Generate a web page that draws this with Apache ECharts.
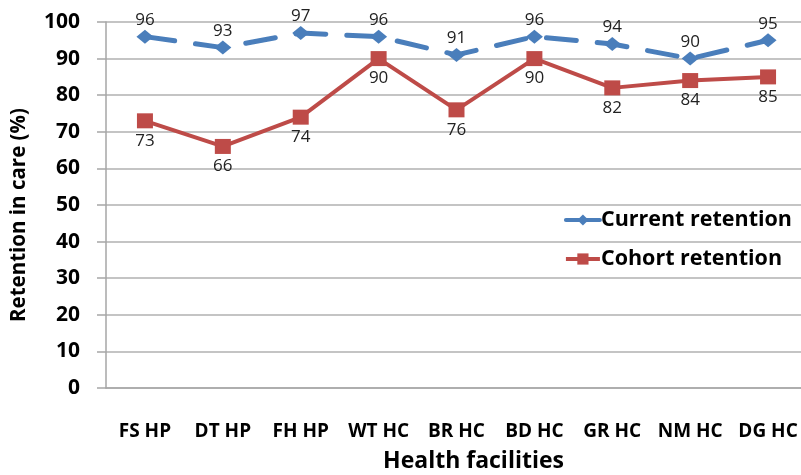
<!DOCTYPE html>
<html><head><meta charset="utf-8">
<script src="https://cdn.jsdelivr.net/npm/echarts@6/dist/echarts.min.js"></script>
<style>html,body{margin:0;padding:0;background:#fff}#c{width:801px;height:475px}</style>
</head><body><div id="c"></div>
<script>
const categories = ['FS HP','DT HP','FH HP','WT HC','BR HC','BD HC','GR HC','NM HC','DG HC'];
const currentRetention = [96,93,97,96,91,96,94,90,95];
const cohortRetention = [73,66,74,90,76,90,82,84,85];
const seriesNames = ['Current retention','Cohort retention'];
const FONT = '"Open Sans", Lato, "Liberation Sans", sans-serif';
const chart = echarts.init(document.getElementById('c'));
chart.setOption({
  animation:false,
  backgroundColor:'#fff',
  grid:{left:106,right:-6,top:22,bottom:87,containLabel:false,outerBoundsMode:'none'},
  legend:{
    orient:'vertical', right:4, top:204, itemGap:17,
    itemWidth:34, itemHeight:14,
    lineStyle:{type:'solid',width:4},
    textStyle:{fontFamily:FONT,fontSize:21.5,fontWeight:'bold',color:'#000',padding:[0,0,0,-4]},
    data:seriesNames
  },
  xAxis:{
    type:'category', data:categories, boundaryGap:true,
    name:'Health facilities', nameLocation:'middle', nameGap:62,
    nameTextStyle:{fontFamily:FONT,fontSize:23,fontWeight:'bold',color:'#000',padding:[0,0,0,34]},
    axisLine:{lineStyle:{color:'#a6a6a6',width:1.5}},
    axisTick:{show:false},
    axisLabel:{fontFamily:FONT,fontSize:19,fontWeight:'bold',color:'#000',margin:34,interval:0}
  },
  yAxis:{
    type:'value', min:0, max:100, interval:10,
    name:'Retention in care (%)', nameLocation:'middle', nameGap:76,
    nameTextStyle:{fontFamily:FONT,fontSize:20.5,fontWeight:'bold',color:'#000',padding:[0,20,0,0]},
    axisLine:{show:true,lineStyle:{color:'#a6a6a6',width:1.5}},
    axisTick:{show:true,length:9,lineStyle:{color:'#a6a6a6',width:1.5}},
    splitLine:{lineStyle:{color:'#b0b0b0',width:1.5}},
    axisLabel:{fontFamily:FONT,fontSize:21,fontWeight:'bold',color:'#000',margin:26}
  },
  series:[
    {name:seriesNames[0],type:'line',data:currentRetention,
     symbol:'diamond',symbolSize:[17,14],
     lineStyle:{color:'#4a7ebb',width:5,type:[30,21],cap:'round'},
     itemStyle:{color:'#4a7ebb'},
     label:{show:true,position:'top',distance:1,fontFamily:FONT,fontSize:17,color:'#222'}},
    {name:seriesNames[1],type:'line',data:cohortRetention,
     symbol:'rect',symbolSize:[16,15],
     lineStyle:{color:'#be4b48',width:4},
     itemStyle:{color:'#be4b48'},
     label:{show:true,position:'bottom',distance:4,fontFamily:FONT,fontSize:17,color:'#222'}}
  ]
});
</script></body></html>
